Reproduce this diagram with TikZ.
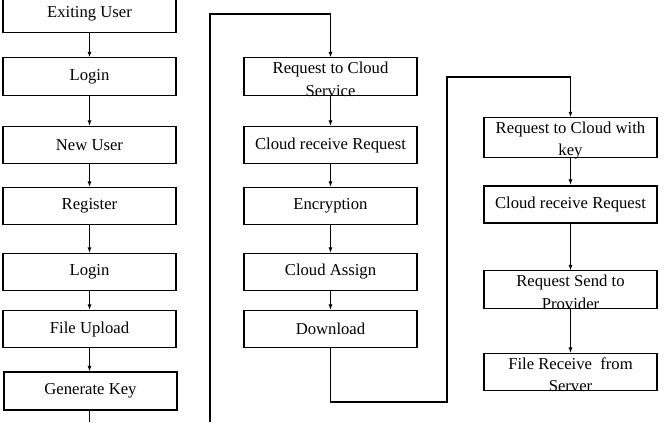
\documentclass[tikz,border=0pt]{standalone}
\usepackage{fontspec}
\setmainfont{Liberation Serif}
\usetikzlibrary{positioning, arrows.meta}
\newcommand{\boxstrut}{\rule{0pt}{13pt}}

\begin{document}
\begin{tikzpicture}[x=0.75pt, y=-0.75pt, >={Latex[length=4pt,width=3pt]},
    every node/.style={align=center, font=\fontsize{12.5}{17}\selectfont},
    box/.style={draw, line width=0.8pt, minimum width=129.75pt, minimum height=28pt,
        inner ysep=-1.5pt},
    thickbox/.style={box, line width=1.6pt},
    flow/.style={->, line width=0.7pt},
    boldflow/.style={->, line width=1.2pt}]
    \useasboundingbox (0,0) rectangle (664,422);
    % Left column
    \node[box] (exist) at (89.5,13.5) {Exiting User};
    \node[box] (login1) at (89.5,76.5) {Login};
    \node[box] (newuser) at (89.5,145) {New User};
    \node[box] (register) at (89.5,206) {Register};
    \node[box] (login2) at (89.5,272) {Login};
    \node[box] (upload) at (89.5,329) {File Upload};
    \node[thickbox] (genkey) at (90.5,391) {Generate Key};
    % Middle column
    \node[box] (reqcloud) at (330.5,76.5) {\boxstrut Request to Cloud\\Service};
    \node[box] (recv) at (330.5,145) {Cloud receive Request};
    \node[box] (encrypt) at (330.5,206) {Encryption};
    \node[box] (assign) at (330.5,272) {Cloud Assign};
    \node[box] (download) at (330.5,329) {Download};
    % Right column
    \node[box] (reqkey) at (570.5,137.5) {\boxstrut Request to Cloud with\\key};
    \node[thickbox] (recvkey) at (570.5,204.5) {Cloud receive Request};
    \node[box] (send) at (570.5,289.5) {\boxstrut Request Send to\\Provider};
    \node[box] (receive) at (570.5,372) {\boxstrut File Receive\ \ from\\Server};
    % Turning points
    \coordinate (gkend) at (89.5,422);
    \coordinate (loopbot) at (210,422);
    \coordinate (looptop) at (210,14);
    \coordinate (dlbot) at (447,402);
    \coordinate (dltop) at (447,77);
    % Arrows, left column
    \draw[boldflow] (exist) -- (login1);
    \draw[boldflow] (login1) -- (newuser);
    \draw[boldflow] (newuser) -- (register);
    \draw[boldflow] (register) -- (login2);
    \draw[flow] (login2) -- (upload);
    \draw[flow] (upload) -- (upload |- genkey.north);
    \draw[line width=1pt] (genkey.south -| gkend) -- (gkend);
    % Arrows, middle column
    \draw[flow, line width=1pt] (loopbot) -- (looptop) -| (reqcloud.north);
    \draw[flow] (reqcloud) -- (recv);
    \draw[flow] (recv) -- (encrypt);
    \draw[flow] (encrypt) -- (assign);
    \draw[flow] (assign) -- (download);
    % Arrows, right column
    \draw[flow, line width=1pt] (download) |- (dlbot) -- (dltop) -| (reqkey.north);
    \draw[flow] (reqkey) -- (recvkey);
    \draw[flow] (recvkey) -- (send);
    \draw[flow] (send) -- (receive);
\end{tikzpicture}
\end{document}
